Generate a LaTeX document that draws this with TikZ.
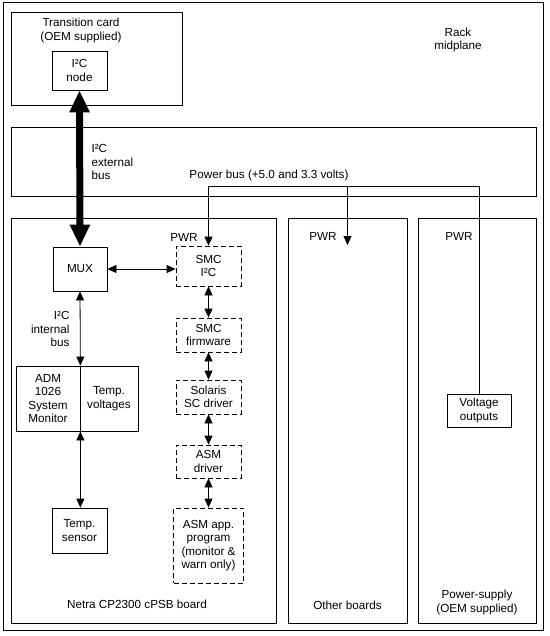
\documentclass[tikz,border=0pt]{standalone}
\usepackage{fontspec}
\setmainfont{Liberation Sans}
\usetikzlibrary{positioning,arrows.meta}

\begin{document}
\begin{tikzpicture}[
  x=1pt, y=-1pt,
  font=\fontsize{11.7}{13.5}\selectfont,
  >={Triangle[length=9pt,width=8pt]},
  panel/.style={draw,line width=0.8pt,inner sep=0pt},
  box/.style={panel,align=center},
  dbox/.style={box,dash pattern=on 5pt off 3pt},
  wire/.style={line width=0.8pt},
  bigbus/.style={line width=7pt,{Triangle[length=22pt,width=19pt]}-{Triangle[length=22pt,width=19pt]}}
]
\useasboundingbox (0,0) rectangle (549,636);

% frames
\node[panel, minimum width=540pt, minimum height=628pt] (rack) at (273,316) {};
\node[panel, minimum width=171pt, minimum height=93pt] (card) at (96.5,58.5) {};
\node[panel, minimum width=525pt, minimum height=69pt] (midbus) at (273.5,161.5) {};
\node[panel, minimum width=265pt, minimum height=405pt] (board) at (143.5,420.5) {};
\node[panel, minimum width=119pt, minimum height=405pt] (others) at (347.5,420.5) {};
\node[panel, minimum width=118pt, minimum height=405pt] (psu) at (477,420.5) {};

\node[align=center] (rackL) at (458,40) {Rack\\midplane};
\node[align=center] (cardL) at (81,30.5) {Transition card\\(OEM supplied)};
\node[align=left, anchor=west] (extL) at (88,162) {I²C\\external\\bus};
\node (busL) at (269,175) {Power bus (+5.0 and 3.3 volts)};
\node (pwrB) at (184,237) {PWR};
\node (pwrO) at (323,236) {PWR};
\node (pwrP) at (459,236) {PWR};
\node[align=right, anchor=east] (intL) at (73,329) {I²C\\internal\\bus};
\node (boardL) at (137,604) {Netra CP2300 cPSB board};
\node (othersL) at (347.5,605) {Other boards};
\node[align=center] (psuL) at (477,602.5) {Power-supply\\(OEM supplied)};

% boxes
\node[box, minimum width=55pt, minimum height=39pt] (i2cn) at (79.5,70.5) {I²C\\node};
\node[box, minimum width=54pt, minimum height=44pt] (mux) at (80,269) {MUX};
\node[box, minimum width=64pt, minimum height=65pt] (admL) at (48,398.5) {ADM\\1026\\System\\Monitor};
\node[box, minimum width=58pt, minimum height=65pt] (admR) at (109,398.5) {Temp.\\voltages};
\node[box, minimum width=55pt, minimum height=45pt] (temp) at (79.5,530.5) {Temp.\\sensor};
\node[box, minimum width=64pt, minimum height=33pt] (vout) at (479,410.5) {Voltage\\outputs};

\node[dbox, minimum width=65pt, minimum height=40pt] (smci) at (208.5,266) {SMC\\I²C};
\node[dbox, minimum width=65pt, minimum height=34pt] (smcf) at (208.5,335) {SMC\\firmware};
\node[dbox, minimum width=65pt, minimum height=34pt] (sol) at (208.5,397) {Solaris\\SC driver};
\node[dbox, minimum width=65pt, minimum height=33pt] (asmd) at (208.5,461.5) {ASM\\driver};
\node[dbox, minimum width=70pt, minimum height=75pt] (asmp) at (208.5,545.5) {ASM app.\\program\\(monitor \&\\warn only)};

% buses
\draw[bigbus] (i2cn.south) -- (mux.north);
\draw[wire,<->] (mux.east) -- (mux.east -| smci.west);
\draw[wire,<->] (mux.south) -- (admL.north east);
\draw[wire,<->] (admL.south east) -- (admL.south east |- temp.north);

\foreach \a/\b in {smci/smcf,smcf/sol,sol/asmd,asmd/asmp}
  \draw[wire,<->] (\a) -- (\b);

% power
\coordinate (bus) at (0,186);
\coordinate (pwrT) at (347.5,245);
\draw[wire,->] (vout.north) -- (vout.north |- bus) -| (smci.north);
\draw[wire,->] (pwrT |- bus) -- (pwrT);

\end{tikzpicture}
\end{document}
